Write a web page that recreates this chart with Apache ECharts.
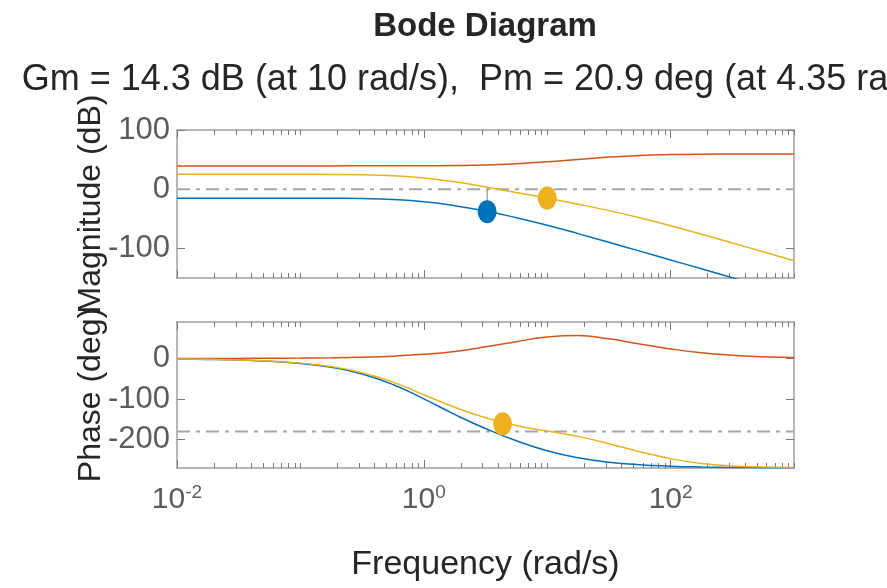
<!DOCTYPE html>
<html>
<head>
<meta charset="utf-8">
<script src="https://cdn.jsdelivr.net/npm/echarts@6/dist/echarts.min.js"></script>
<style>
html,body{margin:0;padding:0;background:#ffffff;}
#c{width:887px;height:588px;}
</style>
</head>
<body>
<div id="c"></div>
<script>
// ---- data ----
const freq = [0.01, 0.01778, 0.03162, 0.05623, 0.1, 0.1778, 0.3162, 0.5623, 1, 1.778, 3.162, 5.623, 10, 17.78, 31.62, 56.23, 100, 177.8, 316.2, 562.3, 1000];

const blueMag   = [-15.1, -15.1, -15.1, -15.1, -15.2, -15.4, -15.9, -17.5, -21.2, -27.8, -37.0, -48.1, -60.9, -75.0, -89.7, -104.6, -119.5, -134.5, -149.5, -164.5, -179.5];
const orangeMag = [39.4, 39.4, 39.4, 39.4, 39.4, 39.4, 39.5, 39.5, 39.7, 40.0, 40.9, 43.0, 46.3, 50.3, 54.2, 57.0, 58.5, 59.2, 59.4, 59.5, 59.5];
const yellowMag = [25.2, 25.2, 25.2, 25.2, 25.1, 24.9, 24.3, 22.7, 19.0, 12.5, 3.8, -5.5, -15.3, -25.4, -36.2, -48.3, -61.7, -76.1, -90.8, -105.7, -120.7];

const bluePhase   = [-1.2, -2.2, -3.9, -7.0, -12.4, -21.9, -38.1, -64.1, -99.5, -137.8, -172.7, -203.0, -227.6, -244.9, -255.6, -261.9, -265.4, -267.4, -268.6, -269.2, -269.6];
const orangePhase = [0.1, 0.2, 0.3, 0.6, 1.0, 1.8, 3.3, 5.8, 10.2, 17.5, 28.7, 41.5, 53.0, 56.5, 48.5, 36.0, 23.7, 14.1, 8.1, 4.6, 2.6];
const yellowPhase = [-1.1, -2.0, -3.6, -6.4, -11.4, -20.0, -34.9, -58.3, -89.3, -120.3, -146.0, -165.0, -179.0, -192.0, -210.0, -230.0, -247.0, -259.0, -265.0, -267.5, -268.5];

// margin markers: [frequency, value]
const blueGmPoint   = [3.26, -38];
const yellowGmPoint = [10, -15];
const yellowPmPoint = [4.35, -161];

const magRefLine = 0;
const phaseRefLine = -180;
const freqRange = [0.01, 1000];

const magTicks = [-100, 0, 100];
const phaseTicks = [-200, -100, 0];
const freqMajorTicks = [0.01, 1, 100];

const titleText = 'Bode Diagram';
const subtitleText = 'Gm = 14.3 dB (at 10 rad/s),  Pm = 20.9 deg (at 4.35 rad/s)';
const xName = 'Frequency (rad/s)';
const magName = 'Magnitude (dB)';
const phaseName = 'Phase (deg)';

// ---- chart ----
const FONT = '"Liberation Sans", Arial, Helvetica, sans-serif';
const frameColor = '#a0a0a0';
const tickColor = '#7a7a7a';
const labelColor = '#5c5c5c';
const textColor = '#262626';
const C_BLUE = '#0072BD', C_ORANGE = '#D95319', C_YELLOW = '#EDB120';

function pairs(xs, ys) { return xs.map((x, i) => [x, ys[i]]); }

function xAx(gridIndex, position, kind, withLabels) {
  const base = {
    type: 'log', logBase: 10, min: freqRange[0], max: freqRange[1],
    gridIndex: gridIndex, position: position,
    splitLine: {show: false},
    axisPointer: {show: false},
    axisLabel: {show: false},
    minorSplitLine: {show: false}
  };
  if (kind === 'A') {
    base.axisLine = {show: true, onZero: false, lineStyle: {color: frameColor, width: 1.5}};
    base.axisTick = {show: true, inside: true, length: 5, lineStyle: {color: tickColor, width: 1}};
    base.minorTick = {show: true, splitNumber: 9, length: 5, lineStyle: {color: tickColor, width: 1}};
  } else {
    base.axisLine = {show: false, onZero: false};
    base.axisTick = {show: true, inside: true, length: 8, customValues: freqMajorTicks, lineStyle: {color: tickColor, width: 1}};
    base.minorTick = {show: false};
    if (withLabels) {
      base.axisLabel = {
        show: true, customValues: freqMajorTicks, margin: 15,
        formatter: function (v) {
          const e = Math.round(Math.log10(v));
          return '{b|10}{s|' + e + '}';
        },
        rich: {
          b: {fontSize: 30, lineHeight: 34, color: labelColor, fontFamily: FONT},
          s: {fontSize: 19, lineHeight: 20, verticalAlign: 'top', color: labelColor, fontFamily: FONT}
        }
      };
      base.name = xName;
      base.nameLocation = 'middle';
      base.nameGap = 80;
      base.nameMoveOverlap = false;
      base.nameTextStyle = {fontSize: 34, lineHeight: 34, color: textColor, fontFamily: FONT};
    }
  }
  return base;
}

function yAx(gridIndex, position, min, max, ticks, name) {
  const left = position === 'left';
  const ax = {
    type: 'value', gridIndex: gridIndex, position: position, min: min, max: max,
    splitLine: {show: false},
    axisPointer: {show: false},
    axisLine: {show: true, onZero: false, lineStyle: {color: frameColor, width: 1.5}},
    axisTick: {show: true, inside: true, length: 8, customValues: ticks, lineStyle: {color: tickColor, width: 1}},
    axisLabel: left ? {show: true, customValues: ticks, margin: 7, fontSize: 31, color: labelColor, fontFamily: FONT} : {show: false}
  };
  if (left && name) {
    ax.name = name;
    ax.nameLocation = 'middle';
    ax.nameGap = 70;
    ax.nameMoveOverlap = false;
    ax.nameTextStyle = {fontSize: 32, lineHeight: 32, color: textColor, fontFamily: FONT};
  }
  return ax;
}

const xAxes = [
  xAx(0, 'bottom', 'A'), xAx(0, 'bottom', 'B'),
  xAx(0, 'top', 'A'), xAx(0, 'top', 'B'),
  xAx(1, 'bottom', 'A'), xAx(1, 'bottom', 'B', true),
  xAx(1, 'top', 'A'), xAx(1, 'top', 'B')
];
const yAxes = [
  yAx(0, 'left', -150, 100, magTicks, magName),
  yAx(0, 'right', -150, 100, magTicks),
  yAx(1, 'left', -270, 90, phaseTicks, phaseName),
  yAx(1, 'right', -270, 90, phaseTicks)
];

function curve(name, data, color, xi, yi) {
  return {
    name: name, type: 'line', xAxisIndex: xi, yAxisIndex: yi,
    data: data, showSymbol: false, symbol: 'none',
    smooth: 0.5, clip: true,
    lineStyle: {color: color, width: 1.5}, itemStyle: {color: color},
    silent: true, z: 3
  };
}
function refLine(y, xi, yi) {
  return {
    type: 'line', xAxisIndex: xi, yAxisIndex: yi,
    data: [[freqRange[0], y], [freqRange[1], y]],
    showSymbol: false, symbol: 'none', silent: true, z: 2,
    lineStyle: {color: '#a6a6a6', width: 2, type: [13, 6, 4, 6]}
  };
}
function stem(pt, refY, xi, yi) {
  return {
    type: 'line', xAxisIndex: xi, yAxisIndex: yi, data: [[pt[0], refY], [pt[0], pt[1]]],
    showSymbol: false, symbol: 'none', lineStyle: {color: '#7f7f7f', width: 1}, silent: true, z: 4
  };
}
function dot(pt, color, xi, yi) {
  return {
    type: 'scatter', xAxisIndex: xi, yAxisIndex: yi, data: [pt],
    symbol: 'circle', symbolSize: [19, 23], itemStyle: {color: color, opacity: 1}, silent: true, z: 5
  };
}

const option = {
  animation: false,
  backgroundColor: '#ffffff',
  textStyle: {fontFamily: FONT},
  title: [
    {text: titleText, left: 485, top: 10, textAlign: 'center', padding: 0,
     textStyle: {fontSize: 33, lineHeight: 33, fontWeight: 'bold', color: textColor, fontFamily: FONT}},
    {text: subtitleText, left: 485, top: 62, textAlign: 'center', padding: 0,
     textStyle: {fontSize: 36, lineHeight: 36, fontWeight: 'normal', color: textColor, fontFamily: FONT}}
  ],
  grid: [
    {left: 177, top: 130, width: 617, height: 148, outerBoundsMode: 'none', containLabel: false},
    {left: 177, top: 322, width: 617, height: 146, outerBoundsMode: 'none', containLabel: false}
  ],
  xAxis: xAxes,
  yAxis: yAxes,
  series: [
    refLine(magRefLine, 0, 0),
    refLine(phaseRefLine, 4, 2),
    curve('blue magnitude', pairs(freq, blueMag), C_BLUE, 0, 0),
    curve('orange magnitude', pairs(freq, orangeMag), C_ORANGE, 0, 0),
    curve('yellow magnitude', pairs(freq, yellowMag), C_YELLOW, 0, 0),
    curve('blue phase', pairs(freq, bluePhase), C_BLUE, 4, 2),
    curve('orange phase', pairs(freq, orangePhase), C_ORANGE, 4, 2),
    curve('yellow phase', pairs(freq, yellowPhase), C_YELLOW, 4, 2),
    stem(blueGmPoint, magRefLine, 0, 0),
    stem(yellowGmPoint, magRefLine, 0, 0),
    stem(yellowPmPoint, phaseRefLine, 4, 2),
    dot(blueGmPoint, C_BLUE, 0, 0),
    dot(yellowGmPoint, C_YELLOW, 0, 0),
    dot(yellowPmPoint, C_YELLOW, 4, 2)
  ]
};

const chart = echarts.init(document.getElementById('c'), null, {renderer: 'canvas'});
chart.setOption(option);
</script>
</body>
</html>
